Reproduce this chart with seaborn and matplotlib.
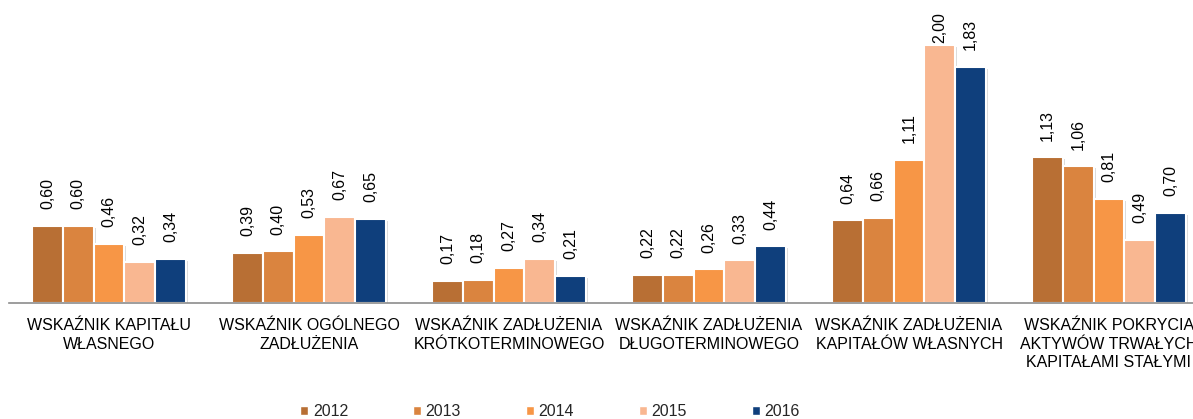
import pandas as pd
import matplotlib.pyplot as plt
import matplotlib.patheffects as pe
from matplotlib.patches import Patch
import seaborn as sns

categories = [
    "WSKAŹNIK KAPITAŁU\nWŁASNEGO",
    "WSKAŹNIK OGÓLNEGO\nZADŁUŻENIA",
    "WSKAŹNIK ZADŁUŻENIA\nKRÓTKOTERMINOWEGO",
    "WSKAŹNIK ZADŁUŻENIA\nDŁUGOTERMINOWEGO",
    "WSKAŹNIK ZADŁUŻENIA\nKAPITAŁÓW WŁASNYCH",
    "WSKAŹNIK POKRYCIA\nAKTYWÓW TRWAŁYCH\nKAPITAŁAMI STAŁYMI",
]
years = ["2012", "2013", "2014", "2015", "2016"]
v2012 = [0.60, 0.39, 0.17, 0.22, 0.64, 1.13]
v2013 = [0.60, 0.40, 0.18, 0.22, 0.66, 1.06]
v2014 = [0.46, 0.53, 0.27, 0.26, 1.11, 0.81]
v2015 = [0.32, 0.67, 0.34, 0.33, 2.00, 0.49]
v2016 = [0.34, 0.65, 0.21, 0.44, 1.83, 0.70]
colors = ["#B86F34", "#DA843F", "#F79646", "#F9B791", "#0F3F7C"]

rows = []
for year, vals in zip(years, [v2012, v2013, v2014, v2015, v2016]):
    for cat, v in zip(categories, vals):
        rows.append({"kategoria": cat, "rok": year, "wartosc": v})
df = pd.DataFrame(rows)

sns.set_style("white")
plt.rcParams["font.family"] = ["Liberation Sans", "DejaVu Sans"]

fig = plt.figure(figsize=(11.93, 4.19), dpi=100)
# group spacing ~200px, first boundary at x=9; baseline at y=303
ax = fig.add_axes([9 / 1193, 116 / 419, 1200 / 1193, 303 / 419])

sns.barplot(data=df, x="kategoria", y="wartosc", hue="rok", palette=colors,
            width=0.77, errorbar=None, ax=ax, legend=False, saturation=1,
            edgecolor="white", linewidth=1.5)

shadow = [pe.SimplePatchShadow(offset=(1.5, -1.5), shadow_rgbFace="#999999", alpha=0.35), pe.Normal()]
for bar in ax.patches:
    bar.set_path_effects(shadow)

ax.set_ylim(0, 2.35)
ax.set_xlim(-0.5, 5.5)

for cont in ax.containers:
    for bar in cont:
        h = bar.get_height()
        ypos = min(h + 0.13, 2.02)
        ax.text(bar.get_x() + bar.get_width() / 2, ypos, f"{h:.2f}".replace(".", ","),
                rotation=90, ha="center", va="bottom", fontsize=11.5, color="#000000")

for s in ["top", "right", "left"]:
    ax.spines[s].set_visible(False)
ax.spines["bottom"].set_color("#8C8C8C")
ax.spines["bottom"].set_linewidth(1.2)
ax.set_yticks([])
ax.set_xlabel("")
ax.set_ylabel("")
ax.set_xticks(range(6))
ax.set_xticklabels(categories, fontsize=11.5, color="#000000", linespacing=1.3)
ax.set_xticks([i - 0.5 for i in range(7)], minor=True)
ax.tick_params(axis="x", which="major", length=0, pad=11)
ax.tick_params(axis="x", which="minor", length=6, color="#8C8C8C", width=1.2, direction="out")

handles = [Patch(facecolor=c, label=y) for c, y in zip(colors, years)]
fig.legend(handles=handles, loc="center", bbox_to_anchor=(0.461, 0.018), ncol=5,
           frameon=False, fontsize=11.5, handlelength=0.5, handleheight=0.5,
           handletextpad=0.3, columnspacing=4.05)

fig.savefig("out.png", dpi=100)
